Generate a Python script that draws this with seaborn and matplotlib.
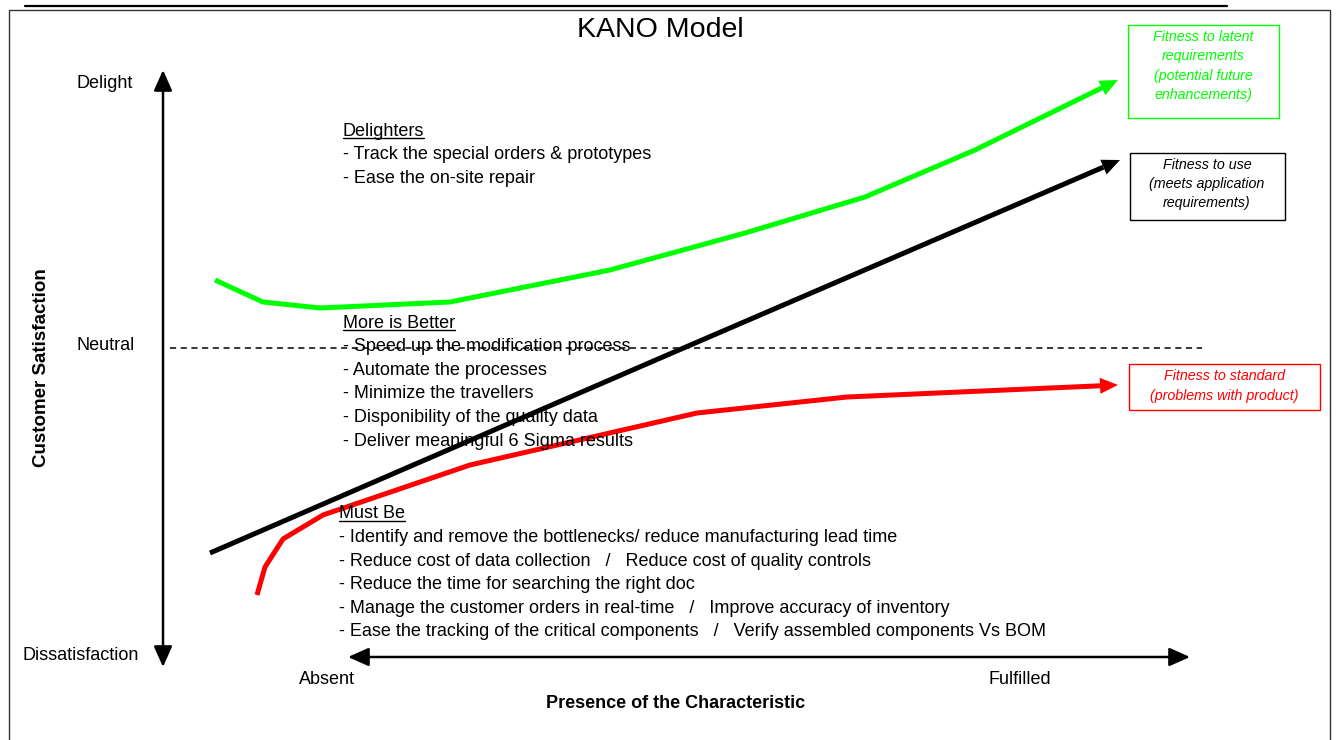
import matplotlib
matplotlib.use("Agg")
import matplotlib.pyplot as plt
from matplotlib.patches import Rectangle
import seaborn as sns
import pandas as pd
import numpy as np

# curve data (x = presence, y = satisfaction, picture units)
latent_x = [215, 263, 320, 450, 610, 745, 865, 975, 1118]
latent_y = [280, 302, 308, 302, 270, 233, 197, 150, 80]
use_x = [210, 665, 1120]
use_y = [553, 356, 160]
standard_x = [257, 265, 283, 323, 470, 697, 847, 1118]
standard_y = [595, 567, 539, 515, 465, 413, 397, 385]

curve_colors = {"latent": "#00ff00", "use": "#000000", "standard": "#ff0000"}

delighters = ["- Track the special orders & prototypes",
              "- Ease the on-site repair"]
more_better = ["- Speed up the modification process",
               "- Automate the processes",
               "- Minimize the travellers",
               "- Disponibility of the quality data",
               "- Deliver meaningful 6 Sigma results"]
must_be = ["- Identify and remove the bottlenecks/ reduce manufacturing lead time",
           "- Reduce cost of data collection   /   Reduce cost of quality controls",
           "- Reduce the time for searching the right doc",
           "- Manage the customer orders in real-time   /   Improve accuracy of inventory",
           "- Ease the tracking of the critical components   /   Verify assembled components Vs BOM"]

sns.set_theme(style="white")
plt.rcParams['font.family'] = ['Liberation Sans', 'DejaVu Sans']
plt.rcParams['text.color'] = 'black'

fig = plt.figure(figsize=(13.38, 7.4), dpi=100)
ax = fig.add_axes([0, 0, 1, 1])

# frame
ax.add_patch(Rectangle((9, 10), 1321, 740, fill=False, ec='#333333', lw=1))
ax.plot([25, 1227], [6, 6], color='black', lw=1.6)

# curves: seaborn draws the polyline up to the arrow base, a filled triangle makes the head
head_len, head_half = 18, 8
rows = []
heads = []
for name, xs, ys in [("latent", latent_x, latent_y), ("use", use_x, use_y),
                     ("standard", standard_x, standard_y)]:
    tip = np.array([xs[-1], ys[-1]], float)
    prev = np.array([xs[-2], ys[-2]], float)
    u = (tip - prev) / np.hypot(*(tip - prev))
    base = tip - head_len * u
    px = list(xs[:-1]) + [base[0]]
    py = list(ys[:-1]) + [base[1]]
    for i, (x, y) in enumerate(zip(px, py)):
        rows.append({"curve": name, "x": x, "y": y, "order": i})
    n = np.array([-u[1], u[0]])
    heads.append((name, [tip, base + head_half * n, base - head_half * n]))
df = pd.DataFrame(rows)
sns.lineplot(data=df, x="x", y="y", hue="curve", palette=curve_colors, sort=False,
             estimator=None, units="curve", lw=3.6, legend=False, ax=ax,
             solid_capstyle='butt', solid_joinstyle='round')
for name, tri in heads:
    tri = np.array(tri)
    ax.fill(tri[:, 0], tri[:, 1], color=curve_colors[name], lw=0)

ax.set_xlim(0, 1338)
ax.set_ylim(740, 0)
ax.axis('off')

# axes arrows
ax.annotate('', xy=(163, 70), xytext=(163, 667),
            arrowprops=dict(arrowstyle='<|-|>,head_length=0.9,head_width=0.4',
                            color='black', lw=1.8, shrinkA=0, shrinkB=0, mutation_scale=14))
ax.annotate('', xy=(1190, 657), xytext=(348, 657),
            arrowprops=dict(arrowstyle='<|-|>,head_length=0.9,head_width=0.4',
                            color='black', lw=1.8, shrinkA=0, shrinkB=0, mutation_scale=14))

# neutral line
ax.plot([170, 1202], [348, 348], color='black', lw=1.1, ls=(0, (4, 3)))

# titles and labels
ax.text(660, 30, 'KANO Model', fontsize=20.5, ha='center', va='center')
ax.text(77, 84, 'Delight', fontsize=13, ha='left', va='center')
ax.text(77, 346, 'Neutral', fontsize=13, ha='left', va='center')
ax.text(22, 655, 'Dissatisfaction', fontsize=13, ha='left', va='center')
ax.text(42, 368, 'Customer Satisfaction', fontsize=13.5, fontweight='bold',
        rotation=90, ha='center', va='center')
ax.text(327, 679, 'Absent', fontsize=13, ha='center', va='center')
ax.text(1020, 679, 'Fulfilled', fontsize=13, ha='center', va='center')
ax.text(676, 703, 'Presence of the Characteristic', fontsize=13, fontweight='bold',
        ha='center', va='center')

# requirement lists
headings = []
for head, items, x0, y0 in [("Delighters", delighters, 343, 131),
                            ("More is Better", more_better, 343, 323),
                            ("Must Be", must_be, 339, 514)]:
    t = ax.text(x0, y0, head, fontsize=13, ha='left', va='center')
    headings.append(t)
    for i, line in enumerate(items):
        ax.text(x0, y0 + 23.6 * (i + 1), line, fontsize=13, ha='left', va='center')

# underline the headings
fig.canvas.draw()
renderer = fig.canvas.get_renderer()
inv = ax.transData.inverted()
for t in headings:
    bb = t.get_window_extent(renderer)
    (x0, y0), (x1, y1) = inv.transform([[bb.x0, bb.y0], [bb.x1, bb.y1]])
    ax.plot([x0, x1], [y0 - 2, y0 - 2], color='black', lw=1)

# boxes
ax.add_patch(Rectangle((1128, 25), 151, 93, fill=False, ec='#00ff00', lw=1))
ax.text(1203, 66, "Fitness to latent\nrequirements\n(potential future\nenhancements)",
        color='#00ff00', style='italic', fontsize=10.3, ha='center', va='center', linespacing=1.48)
ax.add_patch(Rectangle((1130, 153), 155, 67, fill=False, ec='black', lw=1))
ax.text(1207, 184, "Fitness to use\n(meets application\nrequirements)",
        color='black', style='italic', fontsize=10.3, ha='center', va='center', linespacing=1.48)
ax.add_patch(Rectangle((1129, 364), 191, 46, fill=False, ec='#ff0000', lw=1))
ax.text(1224, 386, "Fitness to standard\n(problems with product)",
        color='#ff0000', style='italic', fontsize=10.3, ha='center', va='center', linespacing=1.48)

fig.savefig('out.png', dpi=100, facecolor='white')
